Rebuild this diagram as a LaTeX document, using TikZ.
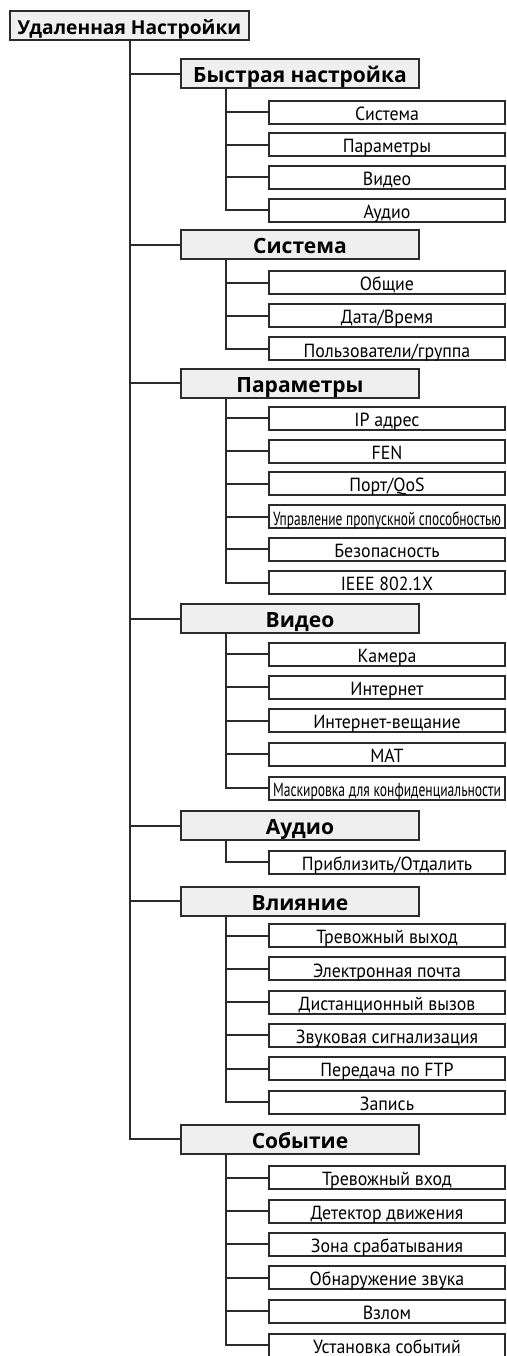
\documentclass[tikz,border=0pt]{standalone}
\usepackage{graphicx}
\usepackage{fontspec}
\setmainfont{PT Sans}
\newfontfamily\leaffont[FakeStretch=0.94]{PT Sans}
\newfontfamily\headfont{Open Sans}
\usepackage{tikz}
\usetikzlibrary{positioning}
\definecolor{ink}{HTML}{2B2B2B}
\definecolor{headbg}{HTML}{EFEFEF}
\tikzset{
  rootbox/.style={draw=ink,fill=headbg,line width=1pt,
                  minimum width=119.5pt,inner sep=0pt,
                  text height=11.8pt,text depth=2.7pt,
                  font=\headfont\bfseries\fontsize{9.6}{12}\selectfont},
  headbox/.style={draw=ink,fill=headbg,line width=1pt,
                  minimum width=119pt,inner sep=0pt,
                  text height=11.8pt,text depth=2.7pt,
                  font=\headfont\bfseries\fontsize{10.5}{12}\selectfont},
  leafbox/.style={draw=ink,fill=white,line width=1pt,
                  minimum width=118pt,inner sep=0pt,
                  text height=9.9pt,text depth=1.6pt,
                  font=\leaffont\fontsize{9.5}{10}\selectfont},
  link/.style={draw=ink,line width=1pt}
}
\newcommand{\squeeze}[1]{\resizebox{114pt}{\height}{#1}}

\begin{document}
\begin{tikzpicture}[x=0.5pt,y=-0.5pt]
  \useasboundingbox (0,0) rectangle (507,1356);
  \fill[white] (0,0) rectangle (507,1356);

  \node[rootbox] (remote) at (129.5,25.5) {Удаленная Настройки};

  % first level
  \node[headbox] (quick) at (300,73.5) {Быстрая настройка};
  \node[headbox] (sys) at (300,244.7) {Система};
  \node[headbox] (net) at (300,383.3) {Параметры};
  \node[headbox] (video) at (300,618.5) {Видео};
  \node[headbox] (audio) at (300,825.5) {Аудио};
  \node[headbox] (act) at (300,901) {Влияние};
  \node[headbox] (evt) at (300,1139) {Событие};

  \draw[link] (remote.south) |- (quick.west);
  \draw[link] (remote.south) |- (sys.west);
  \draw[link] (remote.south) |- (net.west);
  \draw[link] (remote.south) |- (video.west);
  \draw[link] (remote.south) |- (audio.west);
  \draw[link] (remote.south) |- (act.west);
  \draw[link] (remote.south) |- (evt.west);

  % second level
  \node[leafbox] (quick1) at (387,112) {Система};
  \node[leafbox] (quick2) at (387,144.5) {Параметры};
  \node[leafbox] (quick3) at (387,177) {Видео};
  \node[leafbox] (quick4) at (387,210) {Аудио};

  \node[leafbox] (sys1) at (387,282.5) {Общие};
  \node[leafbox] (sys2) at (387,315.5) {Дата/Время};
  \node[leafbox] (sys3) at (387,348.8) {Пользователи/группа};

  \node[leafbox] (net1) at (387,418) {IP адрес};
  \node[leafbox] (net2) at (387,451) {FEN};
  \node[leafbox] (net3) at (387,483.5) {Порт/QoS};
  \node[leafbox] (net4) at (387,516.7) {\squeeze{Управление пропускной способностью}};
  \node[leafbox] (net5) at (387,549) {Безопасность};
  \node[leafbox] (net6) at (387,582.5) {IEEE 802.1X};

  \node[leafbox] (video1) at (387,654) {Камера};
  \node[leafbox] (video2) at (387,687.3) {Интернет};
  \node[leafbox] (video3) at (387,720.6) {Интернет-вещание};
  \node[leafbox] (video4) at (387,754) {MAT};
  \node[leafbox] (video5) at (387,788) {\squeeze{Маскировка для конфиденциальности}};

  \node[leafbox] (audio1) at (387,862) {Приблизить/Отдалить};

  \node[leafbox] (act1) at (387,935.5) {Тревожный выход};
  \node[leafbox] (act2) at (387,968.8) {Электронная почта};
  \node[leafbox] (act3) at (387,1002) {Дистанционный вызов};
  \node[leafbox] (act4) at (387,1035.3) {Звуковая сигнализация};
  \node[leafbox] (act5) at (387,1068.6) {Передача по FTP};
  \node[leafbox] (act6) at (387,1102) {Запись};

  \node[leafbox] (evt1) at (387,1177.5) {Тревожный вход};
  \node[leafbox] (evt2) at (387,1211) {Детектор движения};
  \node[leafbox] (evt3) at (387,1244) {Зона срабатывания};
  \node[leafbox] (evt4) at (387,1277.5) {Обнаружение звука};
  \node[leafbox] (evt5) at (387,1311) {Взлом};
  \node[leafbox] (evt6) at (387,1345) {Установка событий};

  % forks under each heading
  \coordinate (quickfork) at ([xshift=23pt]quick.south west);
  \coordinate (sysfork) at ([xshift=23pt]sys.south west);
  \coordinate (netfork) at ([xshift=23pt]net.south west);
  \coordinate (videofork) at ([xshift=23pt]video.south west);
  \coordinate (audiofork) at ([xshift=23pt]audio.south west);
  \coordinate (actfork) at ([xshift=23pt]act.south west);
  \coordinate (evtfork) at ([xshift=23pt]evt.south west);

  \draw[link] (quickfork) |- (quick1.west);
  \draw[link] (quickfork) |- (quick2.west);
  \draw[link] (quickfork) |- (quick3.west);
  \draw[link] (quickfork) |- (quick4.west);

  \draw[link] (sysfork) |- (sys1.west);
  \draw[link] (sysfork) |- (sys2.west);
  \draw[link] (sysfork) |- (sys3.west);

  \draw[link] (netfork) |- (net1.west);
  \draw[link] (netfork) |- (net2.west);
  \draw[link] (netfork) |- (net3.west);
  \draw[link] (netfork) |- (net4.west);
  \draw[link] (netfork) |- (net5.west);
  \draw[link] (netfork) |- (net6.west);

  \draw[link] (videofork) |- (video1.west);
  \draw[link] (videofork) |- (video2.west);
  \draw[link] (videofork) |- (video3.west);
  \draw[link] (videofork) |- (video4.west);
  \draw[link] (videofork) |- (video5.west);

  \draw[link] (audiofork) |- (audio1.west);

  \draw[link] (actfork) |- (act1.west);
  \draw[link] (actfork) |- (act2.west);
  \draw[link] (actfork) |- (act3.west);
  \draw[link] (actfork) |- (act4.west);
  \draw[link] (actfork) |- (act5.west);
  \draw[link] (actfork) |- (act6.west);

  \draw[link] (evtfork) |- (evt1.west);
  \draw[link] (evtfork) |- (evt2.west);
  \draw[link] (evtfork) |- (evt3.west);
  \draw[link] (evtfork) |- (evt4.west);
  \draw[link] (evtfork) |- (evt5.west);
  \draw[link] (evtfork) |- (evt6.west);
\end{tikzpicture}
\end{document}
